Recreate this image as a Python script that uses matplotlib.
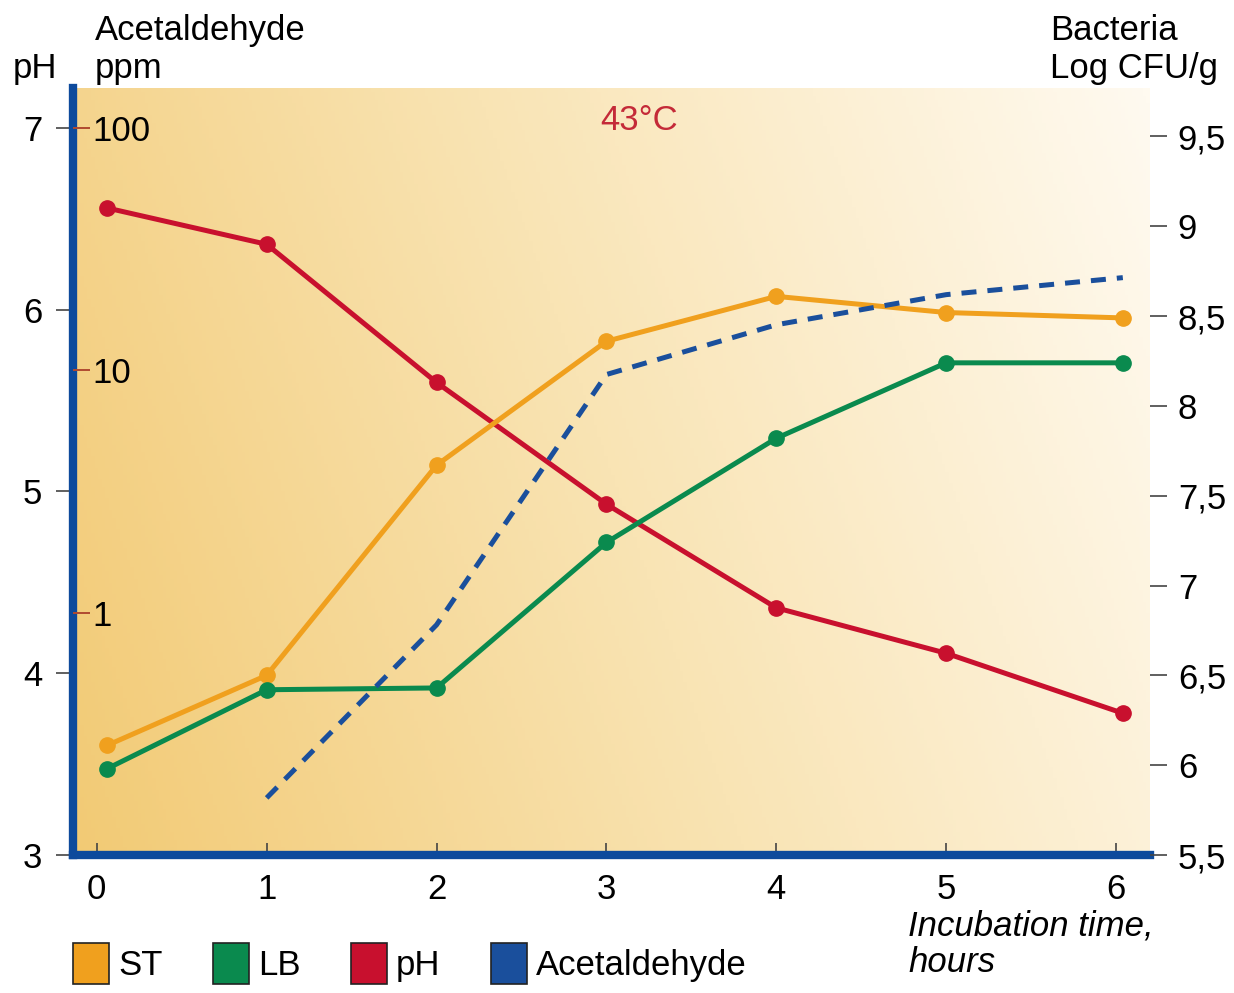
import numpy as np
import matplotlib
matplotlib.use("Agg")
import matplotlib.pyplot as plt
from matplotlib.patches import Patch
from matplotlib.colors import LinearSegmentedColormap
from matplotlib.ticker import NullLocator

plt.rcParams['font.family'] = ['Liberation Sans', 'DejaVu Sans']

# data
hours = [0.06, 1, 2, 3, 4, 5, 6.04]
st_log_cfu = [6.11, 6.50, 7.67, 8.36, 8.61, 8.52, 8.49]
lb_log_cfu = [5.98, 6.42, 6.43, 7.24, 7.82, 8.24, 8.24]
ph_values = [6.56, 6.36, 5.60, 4.93, 4.36, 4.11, 3.78]
acet_hours = [1, 2, 3, 4, 5, 6.04]
acet_ppm = [0.172, 0.89, 9.6, 15.4, 20.5, 24.1]

x_ticks = [0, 1, 2, 3, 4, 5, 6]
ph_ticks = [3, 4, 5, 6, 7]
bact_ticks = [5.5, 6, 6.5, 7, 7.5, 8, 8.5, 9, 9.5]
bact_labels = ["5,5", "6", "6,5", "7", "7,5", "8", "8,5", "9", "9,5"]
acet_ticks = [1, 10, 100]
acet_labels = ["1", "10", "100"]

c_st = "#f0a01e"
c_lb = "#0a8a4e"
c_ph = "#c8102e"
c_ac = "#1a4f9c"
c_axis = "#0d4a9c"
fs = 25

fig = plt.figure(figsize=(12.34, 9.93), dpi=100)
ax = fig.add_axes([73/1234, 1-855/993, (1150-73)/1234, (855-88)/993])

# background gradient
xx, yy = np.meshgrid(np.linspace(0, 1, 300), np.linspace(0, 1, 200))
shade = (1 - xx) * 0.8 + (1 - yy) * 0.2
cmap = LinearSegmentedColormap.from_list("bg", ["#fffaf0", "#f9e4b4", "#f2ca74"])
ax.imshow(shade, extent=[0, 1, 0, 1], transform=ax.transAxes, aspect="auto",
          cmap=cmap, vmin=0, vmax=1, origin="lower", zorder=0)

ax.set_xlim(-0.14, 6.2)
ax.set_ylim(3, 7.22)
ax.plot(hours, ph_values, color=c_ph, lw=3.6, marker="o", ms=11, zorder=5)

ax.set_yticks(ph_ticks)
ax.tick_params(axis="y", direction="out", length=12, width=1.2, color="#444444",
               labelsize=fs, pad=10)
ax.set_xticks(x_ticks)
ax.tick_params(axis="x", direction="in", length=9, width=1.2, color="#444444",
               labelsize=fs, pad=13)
for s in ["top", "right"]:
    ax.spines[s].set_visible(False)
for s in ["left", "bottom"]:
    ax.spines[s].set_color(c_axis)
    ax.spines[s].set_linewidth(6)
    ax.spines[s].set_zorder(10)

# bacteria axis (right)
ax2 = ax.twinx()
ax2.set_ylim(5.5, 9.77)
ax2.plot(hours, st_log_cfu, color=c_st, lw=3.6, marker="o", ms=11)
ax2.plot(hours, lb_log_cfu, color=c_lb, lw=3.6, marker="o", ms=11)
ax2.set_yticks(bact_ticks, bact_labels)
ax2.tick_params(axis="y", direction="out", length=12, width=1.2, color="#444444",
                labelsize=fs, pad=8)
for s in ax2.spines.values():
    s.set_visible(False)

# acetaldehyde axis (log, labels inside on the left)
ax3 = ax.twinx()
ax3.set_yscale("log")
ax3.set_ylim(0.1, 146)
ax3.plot(acet_hours, acet_ppm, color=c_ac, lw=3.6, ls=(0, (3, 2.2)))
ax3.yaxis.tick_left()
ax3.set_yticks(acet_ticks, acet_labels)
ax3.yaxis.set_minor_locator(NullLocator())
ax3.tick_params(axis="y", direction="in", length=12, width=1.4, color="#b04a30",
                labelsize=fs, pad=-14)
for t in ax3.get_yticklabels():
    t.set_horizontalalignment("left")
for s in ax3.spines.values():
    s.set_visible(False)

ax3.text(0.526, 0.958, "43°C", transform=ax.transAxes, color="#c42a38",
         fontsize=fs, ha="center", va="center", zorder=12)

# headers
fig.text(13/1234, 1-78/993, "pH", fontsize=fs, va="baseline")
fig.text(95/1234, 1-78/993, "Acetaldehyde\nppm", fontsize=fs, va="baseline",
         linespacing=1.2)
fig.text(1050/1234, 1-78/993, "Bacteria\nLog CFU/g", fontsize=fs, va="baseline",
         linespacing=1.2)
fig.text(908/1234, 1-972/993, "Incubation time,\nhours", fontsize=fs,
         style="italic", va="baseline", linespacing=1.15)

handles = [Patch(facecolor=c, edgecolor="#222222", lw=1.2) for c in [c_st, c_lb, c_ph, c_ac]]
fig.legend(handles, ["ST", "LB", "pH", "Acetaldehyde"], loc="lower left",
           bbox_to_anchor=(52/1234, -0.012), ncol=4, frameon=False, fontsize=fs,
           handlelength=1.05, handleheight=1.45, handletextpad=0.25,
           columnspacing=1.45, borderaxespad=0.2)

fig.savefig("out.png", dpi=100)
